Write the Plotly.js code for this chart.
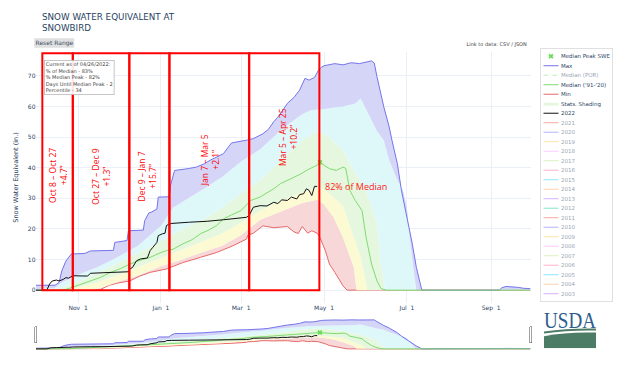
<!DOCTYPE html>
<html><head><meta charset="utf-8">
<script src="https://cdn.plot.ly/plotly-3.0.1.min.js"></script>
<style>
html,body{margin:0;padding:0;width:640px;height:365px;overflow:hidden;background:#fff;}
#chart{width:1280px;height:730px;transform:scale(0.5);transform-origin:0 0;}
</style></head><body><div id="chart"></div>
<script>
// ---- data (water year 2022, dates as MM-DD) ----
const maxSWE = [['10-01',1.6],['10-15',1.6],['10-18',2.5],['10-20',6.3],['10-23',9.5],['10-27',11.8],['11-06',12.0],['11-10',12.8],['11-27',13.0],['11-28',15.6],['12-07',16.2],['12-08',19.4],['12-19',19.6],['12-20',22.7],['12-23',25.2],['12-25',25.5],['12-29',26.5],['12-30',30.4],['01-07',30.5],['01-08',34.2],['01-11',39.1],['01-21',39.7],['01-27',40.2],['02-02',41.3],['02-06',42.4],['02-11',43.5],['02-16',44.6],['02-20',47.0],['02-22',48.1],['03-05',49.0],['03-10',49.5],['03-17',51.1],['03-21',52.5],['03-25',55.0],['03-28',56.5],['04-01',59.0],['04-04',61.0],['04-09',63.0],['04-13',65.3],['04-17',69.2],['04-20',68.6],['04-24',69.5],['04-27',71.9],['04-29',72.8],['05-01',73.3],['05-03',73.5],['05-09',74.0],['05-15',73.6],['05-21',74.3],['05-27',74.0],['06-02',74.6],['06-05',74.9],['06-07',74.2],['06-09',69.7],['06-14',59.9],['06-18',53.3],['06-20',49.0],['06-24',41.3],['06-27',32.6],['07-01',23.8],['07-05',15.1],['07-08',7.4],['07-12',0],['09-07',0],['09-09',0.8],['09-12',1.2],['09-16',1.1],['09-21',0.9],['09-25',0.6],['09-30',0.5]];
const pct90 = [['10-01',0.3],['10-15',0.8],['10-20',2.5],['11-01',5.0],['11-15',7.5],['12-01',11.0],['12-15',14.5],['01-01',21.0],['01-10',27.0],['02-01',33.0],['02-15',37.0],['03-01',42.0],['03-15',46.0],['04-01',53.0],['04-15',57.5],['04-21',58.8],['05-01',59.2],['05-15',60.0],['05-24',61.0],['05-28',62.6],['06-02',58.2],['06-09',52.0],['06-14',49.0],['06-18',42.4],['06-23',36.9],['06-28',32.6],['07-01',27.0],['07-03',17.2],['07-06',6.3],['07-08',0],['09-30',0]];
const pct70 = [['10-01',0],['10-18',0.5],['11-01',2.8],['11-15',5.5],['12-01',9.0],['12-15',12.0],['01-01',16.0],['01-15',19.5],['02-01',23.0],['02-15',27.0],['03-01',31.5],['03-15',36.0],['04-01',43.0],['04-15',49.0],['04-26',52.0],['05-03',50.6],['05-15',45.7],['05-23',39.1],['06-01',32.6],['06-09',21.7],['06-12',8.5],['06-15',0],['09-30',0]];
const pct30 = [['10-01',0],['10-25',0.2],['11-01',1.0],['11-15',2.5],['12-01',5.0],['12-15',7.5],['01-01',10.5],['01-15',13.0],['02-01',16.0],['02-15',18.5],['03-01',22.0],['03-15',26.0],['04-01',29.5],['04-15',32.0],['04-26',33.3],['05-01',33.0],['05-05',31.5],['05-15',27.6],['05-23',17.2],['05-28',10.7],['06-02',0],['09-30',0]];
const pct10 = [['10-01',0],['11-10',0],['11-20',1.0],['12-01',2.8],['12-15',4.8],['01-01',7.8],['01-15',9.8],['02-01',12.5],['02-15',14.5],['03-01',18.0],['03-15',23.0],['04-01',26.0],['04-15',28.5],['04-26',29.5],['05-01',28.0],['05-08',23.8],['05-15',17.2],['05-23',7.4],['05-25',0],['09-30',0]];
const minSWE = [['10-01',0],['11-17',0],['11-20',0.8],['11-24',1.6],['11-30',2.3],['12-09',3.0],['12-16',4.5],['12-24',5.8],['01-05',6.9],['01-17',9.0],['01-30',10.7],['02-11',12.3],['02-23',14.5],['03-05',16.7],['03-06',18.0],['03-10',18.6],['03-17',21.0],['03-25',20.4],['04-04',20.8],['04-09',19.0],['04-12',18.5],['04-15',20.8],['04-19',18.6],['04-22',19.4],['04-26',18.6],['04-28',17.2],['05-02',12.9],['05-05',8.5],['05-09',5.8],['05-13',3.0],['05-15',1.4],['05-18',0],['09-30',0]];
const median9120 = [['10-01',0],['10-21',0],['10-25',0.5],['11-01',1.6],['11-08',2.6],['11-17',4.1],['11-25',5.8],['12-02',7.0],['12-09',8.5],['12-17',9.8],['12-24',10.7],['01-01',12.3],['01-05',12.9],['01-10',13.4],['01-17',15.1],['01-24',16.5],['01-30',18.4],['02-05',19.6],['02-11',21.1],['02-16',23.3],['02-22',24.6],['03-01',26.0],['03-08',29.3],['03-15',30.4],['03-20',31.8],['03-25',33.1],['03-30',34.8],['04-04',35.8],['04-09',36.9],['04-14',38.0],['04-18',39.1],['04-23',40.2],['04-26',40.8],['04-28',41.8],['05-01',40.8],['05-05',39.7],['05-10',39.1],['05-15',40.2],['05-17',39.8],['05-20',32.6],['05-24',29.3],['05-29',26.0],['06-01',17.2],['06-05',8.5],['06-09',3.0],['06-12',0.5],['06-16',0],['09-30',0]];
const wy2022 = [['10-01',0],['10-09',0],['10-11',2.0],['10-13',3.0],['10-16',3.3],['10-18',3.0],['10-21',3.5],['10-23',4.1],['10-25',3.9],['10-28',4.7],['11-08',4.6],['11-10',5.5],['11-20',5.7],['11-30',5.9],['12-08',6.0],['12-09',6.9],['12-11',7.4],['12-14',9.6],['12-17',10.2],['12-22',10.5],['12-24',12.9],['12-26',14.0],['12-29',15.6],['12-30',17.8],['01-02',18.4],['01-04',18.6],['01-05',21.1],['01-07',21.6],['01-09',21.8],['01-22',22.2],['02-04',22.5],['02-16',23.0],['02-22',23.3],['03-05',23.8],['03-07',24.5],['03-10',27.1],['03-15',27.6],['03-20',27.5],['03-25',28.7],['03-28',28.3],['03-31',29.5],['04-04',29.3],['04-07',30.4],['04-11',29.8],['04-13',31.2],['04-16',31.5],['04-18',33.1],['04-20',32.6],['04-22',30.9],['04-24',33.9],['04-26',33.9]];
const medianPeak = [['04-28',41.8]];
const yearNames = ['2021','2020','2019','2018','2017','2016','2015','2014','2013','2012','2011','2010','2009','2008','2007','2006','2005','2004','2003'];
const yearColors = ['#EF553B','#636EFA','#FECB52','#FF97FF','#B6E880','#FF6692','#19D3F3','#FFA15A','#AB63FA','#00CC96','#EF553B','#636EFA','#FECB52','#FF97FF','#B6E880','#FF6692','#19D3F3','#FFA15A','#AB63FA'];
const periodEdges = ['2021-10-05 16:00','2021-10-28 02:00','2021-12-08 17:00','2022-01-07 05:00','2022-03-06 22:00','2022-04-27 14:00'];
const periodLabels = ['Oct 8 – Oct 27<br>+4.7”','Oct 27 – Dec 9<br>+1.3”','Dec 9 – Jan 7<br>+15.7”','Jan 7 – Mar 5<br>+2.1”','Mar 5 – Apr 25<br>+10.2”'];
const infoText = 'Current as of 04/26/2022:<br>% of Median - 83%<br>% Median Peak - 82%<br>Days Until Median Peak - 2<br>Percentile - 34';

// ---- helpers ----
const toDate = md => (parseInt(md.slice(0,2),10) >= 10 ? '2021-' : '2022-') + md;
const xs = s => s.map(p => toDate(p[0]));
const ys = s => s.map(p => p[1]);

const band = (s, color) => ({x: xs(s), y: ys(s), mode:'lines', fill:'tonexty', fillcolor: color, line:{width:0, color: color}, showlegend:false, hoverinfo:'skip'});

const traces = [];
traces.push({x: xs(minSWE), y: ys(minSWE), mode:'lines', name:'Min', line:{color:'#e66a6a', width:2}, legendrank:5});
traces.push(band(pct10, '#f7d7d7'));
traces.push(band(pct30, '#fbfad3'));
const st = band(pct70, '#e6f7df'); st.showlegend = true; st.name = 'Stats. Shading'; st.legendrank = 6;
traces.push(st);
traces.push(band(pct90, '#def8fa'));
traces.push(band(maxSWE, '#d5d5f8'));
traces.push({x: xs(maxSWE), y: ys(maxSWE), mode:'lines', name:'Max', line:{color:'#7474ea', width:2}, legendrank:2});
traces.push({x: [null], y: [null], mode:'lines', name:'Median (POR)', visible:'legendonly', line:{color:'#7ddc6f', width:2, dash:'dash'}, legendrank:3});
traces.push({x: xs(median9120), y: ys(median9120), mode:'lines', name:"Median ('91-'20)", line:{color:'#7ddc6f', width:2}, legendrank:4});
traces.push({x: xs(wy2022), y: ys(wy2022), mode:'lines', name:'2022', line:{color:'#111111', width:2}, legendrank:7});
traces.push({x: xs(medianPeak), y: ys(medianPeak), mode:'markers', name:'Median Peak SWE', marker:{symbol:'x', size:9, color:'#66dd55'}, legendrank:1});
yearNames.forEach((n, i) => traces.push({x: [null], y: [null], mode:'lines', name:n, visible:'legendonly', line:{color:yearColors[i], width:2}, legendrank:8+i}));

const shapes = [];
for (let i = 0; i < periodEdges.length - 1; i++) {
  shapes.push({type:'rect', xref:'x', yref:'y', x0: periodEdges[i], x1: periodEdges[i+1], y0: 0, y1: 77.4, line:{color:'#ff0000', width:4}, layer:'above'});
}
const labelPos = [['2021-10-17 14:00',37.5],['2021-11-18',37.1],['2021-12-22',37.1],['2022-02-06',42.4],['2022-04-04 14:00',49.9]];
const annotations = periodLabels.map((t, i) => ({xref:'x', yref:'y', x: labelPos[i][0], y: labelPos[i][1], text: t, textangle:-90, showarrow:false, font:{family:'"Open Sans", sans-serif', size:17, color:'#ff0000'}}));
annotations.push({xref:'x', yref:'y', x:'2022-05-24 14:00', y:34, text:'82% of Median', showarrow:false, font:{family:'"Open Sans", sans-serif', size:18, color:'#ff2020'}});
annotations.push({xref:'paper', yref:'paper', x:0.016, y:0.968, xanchor:'left', yanchor:'top', align:'left', text: infoText, showarrow:false, bordercolor:'#b4b4b4', borderwidth:1.5, borderpad:2, bgcolor:'rgba(255,255,255,0.9)', font:{size:10, color:'#444'}});
annotations.push({xref:'paper', yref:'paper', x:0.995, y:1.032, xanchor:'right', yanchor:'middle', text:'Link to data: CSV / JSON', showarrow:false, font:{size:10, color:'#444'}});
annotations.push({xref:'paper', yref:'paper', x:-0.004, y:1.056, xanchor:'left', yanchor:'top', text:'Reset Range', showarrow:false, bgcolor:'#e0e0e0', borderpad:2, font:{size:12, color:'#3a4a60'}});

const logoSvg = '<svg xmlns="http://www.w3.org/2000/svg" width="108" height="74" viewBox="0 0 108 74">' +
  '<text x="54" y="34" font-family="Liberation Serif, DejaVu Serif, serif" font-size="46" fill="#2d5d8e" text-anchor="middle" textLength="104" lengthAdjust="spacingAndGlyphs">USDA</text>' +
  '<path d="M2 41 Q50 34 106 35 L106 39 Q50 38 2 45 Z" fill="#4d7c66"/>' +
  '<path d="M2 50 Q50 41 106 43 L106 74 L2 74 Z" fill="#4d7c66"/></svg>';

const layout = {
  width:1280, height:730,
  margin:{l:72, r:219, t:104, b:29},
  paper_bgcolor:'#fff', plot_bgcolor:'#fff',
  font:{family:'"DejaVu Sans", Verdana, sans-serif', color:'#2a3f5f', size:12},
  title:{text:'SNOW WATER EQUIVALENT AT<br>SNOWBIRD', xref:'container', x:0.0656, xanchor:'left', yref:'container', y:0.946, yanchor:'top', font:{size:17.5, color:'#2a3f5f'}},
  showlegend:true,
  legend:{x:1.0192, xanchor:'left', y:1.016, yanchor:'top', traceorder:'normal', maxheight:600, bgcolor:'#fff', bordercolor:'#e0e0e0', borderwidth:2, font:{size:11, color:'#2a3f5f'}, tracegroupgap:0},
  hovermode:false,
  xaxis:{type:'date', range:['2021-10-01','2022-09-30'], tick0:'2021-11-01', dtick:'M2', tickformat:'%b %e', showgrid:true, gridcolor:'#ebf0f8', gridwidth:2, zeroline:false, showline:false, ticks:'', tickfont:{size:12, color:'#2a3f5f'},
    rangeslider:{visible:true, thickness:0.1072, bgcolor:'#fff', borderwidth:0, range:['2021-10-01','2022-09-30'], yaxis:{rangemode:'match'}}},
  yaxis:{range:[-4.2, 77.8], dtick:10, showgrid:true, gridcolor:'#ebf0f8', gridwidth:2, zeroline:false, ticks:'', tickfont:{size:12, color:'#2a3f5f'}, title:{text:'Snow Water Equivalent (in.)', font:{size:13, color:'#2a3f5f'}}},
  shapes: shapes,
  annotations: annotations,
  images:[{source:'data:image/svg+xml;charset=utf-8,' + encodeURIComponent(logoSvg), xref:'paper', yref:'paper', x:1.0253, y:-0.032, sizex:108/989, sizey:74/500, xanchor:'left', yanchor:'top', sizing:'stretch', layer:'above'}]
};

Plotly.newPlot('chart', traces, layout, {displayModeBar:false, responsive:false});
</script></body></html>
